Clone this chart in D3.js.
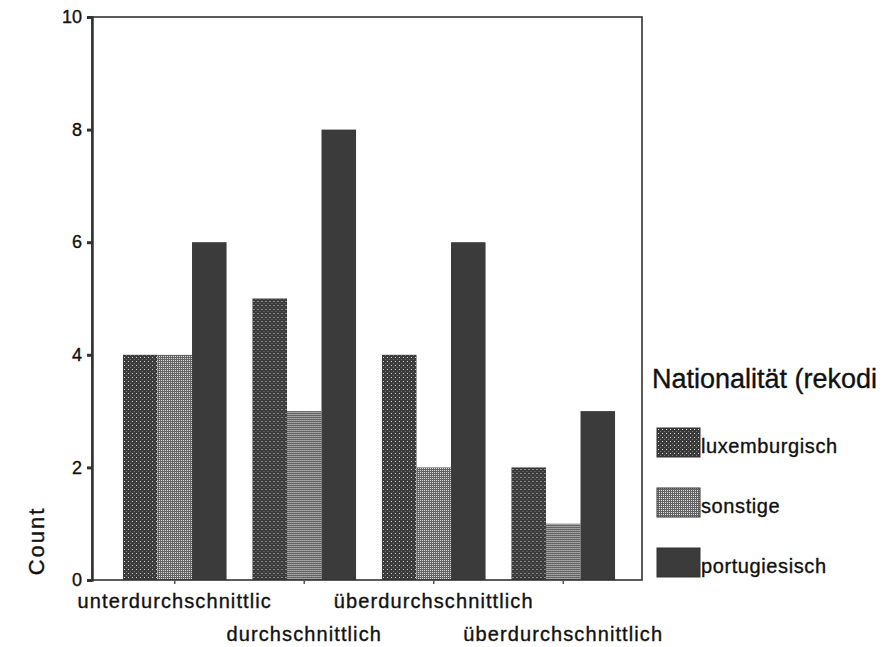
<!DOCTYPE html>
<html>
<head>
<meta charset="utf-8">
<script src="https://cdn.jsdelivr.net/npm/d3@7"></script>
<style>
  html, body { margin: 0; padding: 0; background: #fff; }
  svg { display: block; font-family: "Liberation Sans", Arial, sans-serif; }
  .txt { fill: #111; stroke: #111; stroke-width: 0.35px; }
</style>
</head>
<body>
<svg id="chart" width="895" height="647"></svg>
<script>
// ---- data ----
const categories = ["unterdurchschnittlic", "durchschnittlich", "überdurchschnittlich", "überdurchschnittlich"];
const seriesNames = ["luxemburgisch", "sonstige", "portugiesisch"];
const luxemburgisch = [4, 5, 4, 2];
const sonstige = [4, 3, 2, 1];
const portugiesisch = [6, 8, 6, 3];
const yTicks = [0, 2, 4, 6, 8, 10];
const legendTitle = "Nationalität (rekodi";
const yTitle = "Count";

const seriesValues = [luxemburgisch, sonstige, portugiesisch];

const svg = d3.select("#chart");
const defs = svg.append("defs");

// patterns
const p1 = defs.append("pattern").attr("id", "patLux").attr("patternUnits", "userSpaceOnUse")
  .attr("width", 4).attr("height", 4);
p1.append("rect").attr("width", 4).attr("height", 4).attr("fill", "#3a3a3a");
p1.append("rect").attr("x", 1).attr("y", 1).attr("width", 1).attr("height", 1).attr("fill", "#d8d8d8");
p1.append("rect").attr("x", 3).attr("y", 3).attr("width", 1).attr("height", 1).attr("fill", "#7a7a7a");

const p2 = defs.append("pattern").attr("id", "patSon").attr("patternUnits", "userSpaceOnUse")
  .attr("width", 2).attr("height", 2);
p2.append("rect").attr("width", 2).attr("height", 2).attr("fill", "#626262");
p2.append("rect").attr("x", 0).attr("y", 0).attr("width", 1).attr("height", 1).attr("fill", "#e0e0e0");

const fills = ["url(#patLux)", "url(#patSon)", "#3b3b3b"];

// scales
const plot = { left: 92, right: 642, top: 17, bottom: 580 };
const x0 = d3.scaleBand().domain(d3.range(categories.length)).range([110, 628])
  .paddingInner(0.2).paddingOuter(0.1);
const x1 = d3.scaleBand().domain(d3.range(seriesNames.length)).range([0, x0.bandwidth()]).padding(0);
const y = d3.scaleLinear().domain([0, 10]).range([plot.bottom, plot.top]);

// bars
const groups = svg.append("g").selectAll("g").data(categories).join("g")
  .attr("transform", (d, i) => `translate(${x0(i)},0)`);
groups.selectAll("rect").data((d, i) => seriesValues.map((s, j) => ({ j, v: s[i] })))
  .join("rect")
  .attr("x", d => x1(d.j))
  .attr("width", x1.bandwidth())
  .attr("y", d => y(d.v))
  .attr("height", d => y(0) - y(d.v))
  .attr("fill", d => fills[d.j]);

// frame
svg.append("rect").attr("x", plot.left).attr("y", plot.top)
  .attr("width", plot.right - plot.left).attr("height", plot.bottom - plot.top)
  .attr("fill", "none").attr("stroke", "#333").attr("stroke-width", 1.6);

// y axis
const yAxis = d3.axisLeft(y).tickValues(yTicks).tickSize(5).tickPadding(5);
const gy = svg.append("g").attr("transform", `translate(${plot.left},0)`).call(yAxis);
gy.select(".domain").attr("stroke", "#333").attr("stroke-width", 2.5);
gy.selectAll(".tick line").attr("stroke", "#333").attr("stroke-width", 3);
gy.selectAll(".tick text").attr("font-size", 18).attr("class", "txt")
  .attr("font-family", "'Liberation Sans', Arial, sans-serif");

// x axis
const xAxis = d3.axisBottom(x0).tickSize(4).tickFormat(i => categories[i]);
const gx = svg.append("g").attr("transform", `translate(0,${plot.bottom})`).call(xAxis);
gx.select(".domain").remove();
gx.selectAll(".tick line").attr("stroke", "#555").attr("stroke-width", 1.5);
gx.selectAll(".tick text")
  .attr("font-size", 20).attr("class", "txt").attr("letter-spacing", 1.1)
  .attr("font-family", "'Liberation Sans', Arial, sans-serif")
  .attr("dy", null)
  .attr("y", (d, i) => i % 2 === 0 ? 28 : 61);

// y title
svg.append("text").attr("transform", "translate(44,541) rotate(-90)")
  .attr("text-anchor", "middle").attr("font-size", 22).attr("letter-spacing", 2)
  .attr("class", "txt").text(yTitle);

// legend
svg.append("text").attr("x", 652).attr("y", 388).attr("font-size", 27)
  .attr("class", "txt").text(legendTitle);
const legY = [428, 488, 548];
const leg = svg.append("g").selectAll("g").data(seriesNames).join("g")
  .attr("transform", (d, i) => `translate(657,${legY[i]})`);
leg.append("rect").attr("width", 43).attr("height", 29)
  .attr("fill", (d, i) => fills[i]).attr("stroke", "#333").attr("stroke-width", 1);
leg.append("text").attr("x", 44).attr("y", 25).attr("font-size", 20)
  .attr("letter-spacing", 0.6).attr("class", "txt").text(d => d);
</script>
</body>
</html>
